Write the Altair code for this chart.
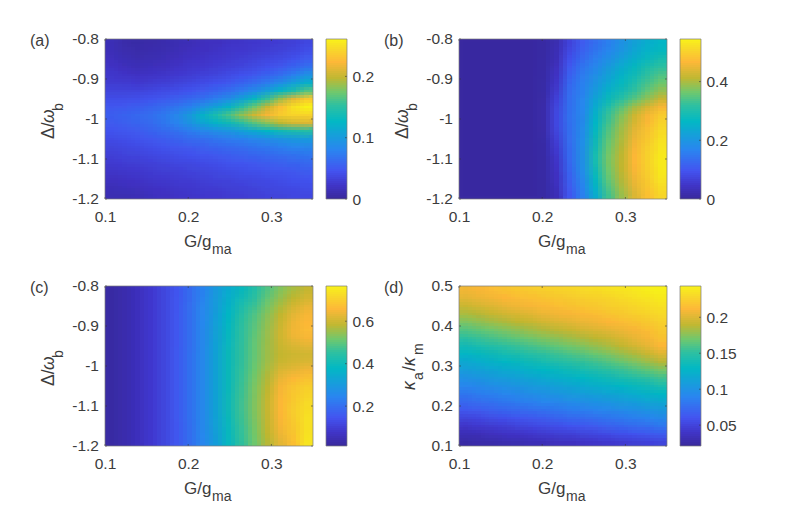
import altair as alt
import numpy as np
import pandas as pd

FONT = "Liberation Sans"
INK = "#3c3c3c"
W, H, CBW = 208, 160, 21

STOPS = [0, 0.08, 0.17, 0.3, 0.48, 0.58, 0.66, 0.75, 0.85, 0.93, 1]
COLORS = ["#3a2a9e", "#4035c8", "#4354f0", "#2a85f0", "#02b8c4", "#2fc0a0", "#6fc86e",
          "#c0b832", "#fdb838", "#f8d82a", "#f9f518"]

G_EDGES = np.linspace(0.1, 0.35, 17)

PANEL_A = [  # Δ from -0.8 (top) to -1.2 (bottom), thousandths
    [12, 7, 5, 6, 8, 11, 14, 16, 18, 20, 22, 24, 26, 28, 31, 36],
    [14, 9, 7, 8, 10, 13, 16, 18, 20, 23, 25, 27, 29, 32, 35, 41],
    [16, 12, 10, 11, 13, 16, 19, 21, 24, 26, 29, 32, 35, 38, 43, 50],
    [19, 16, 14, 15, 17, 20, 23, 25, 28, 31, 34, 38, 43, 49, 56, 66],
    [23, 21, 19, 20, 22, 25, 28, 31, 34, 38, 43, 48, 55, 64, 75, 90],
    [27, 26, 25, 27, 29, 32, 35, 39, 43, 48, 55, 63, 73, 87, 103, 118],
    [33, 33, 33, 35, 38, 41, 45, 50, 56, 63, 73, 86, 103, 123, 142, 163],
    [40, 41, 42, 45, 49, 53, 59, 66, 75, 87, 105, 128, 155, 185, 212, 232],
    [47, 49, 52, 56, 62, 68, 77, 90, 105, 122, 147, 172, 200, 228, 248, 260],
    [52, 55, 59, 64, 71, 81, 97, 120, 140, 160, 182, 203, 220, 235, 240, 240],
    [50, 53, 57, 62, 69, 78, 92, 108, 122, 133, 148, 165, 180, 195, 205, 208],
    [45, 47, 50, 55, 60, 66, 73, 81, 88, 95, 103, 113, 124, 135, 142, 146],
    [39, 41, 44, 47, 51, 55, 60, 64, 68, 72, 77, 82, 87, 92, 97, 100],
    [34, 36, 38, 41, 44, 47, 50, 53, 57, 60, 63, 67, 71, 75, 79, 82],
    [30, 32, 34, 36, 38, 40, 43, 46, 48, 51, 54, 57, 60, 63, 66, 69],
    [26, 28, 29, 31, 33, 35, 37, 39, 41, 44, 46, 49, 51, 54, 56, 59],
    [22, 23, 25, 27, 29, 30, 32, 34, 36, 38, 40, 42, 44, 46, 49, 51],
    [18, 19, 21, 23, 25, 27, 28, 30, 32, 33, 35, 37, 39, 41, 43, 45],
    [14, 15, 17, 19, 21, 23, 25, 27, 28, 30, 31, 33, 35, 37, 39, 40],
    [11, 11, 13, 15, 18, 20, 22, 24, 25, 27, 28, 30, 32, 33, 35, 36],
]

PANEL_B = [
    [4, 4, 4, 4, 4, 5, 7, 22, 68, 105, 133, 158, 188, 218, 242, 257],
    [4, 4, 4, 4, 4, 5, 7, 24, 77, 113, 142, 168, 198, 228, 253, 268],
    [4, 4, 4, 4, 4, 5, 8, 28, 88, 126, 156, 186, 215, 245, 272, 290],
    [4, 4, 4, 4, 4, 5, 8, 34, 102, 140, 171, 205, 238, 268, 296, 315],
    [4, 4, 4, 4, 4, 5, 9, 40, 112, 150, 183, 218, 252, 282, 316, 338],
    [4, 4, 4, 4, 4, 5, 10, 46, 120, 157, 194, 232, 266, 298, 332, 358],
    [4, 4, 4, 4, 4, 5, 10, 54, 127, 162, 208, 250, 285, 318, 352, 382],
    [4, 4, 4, 4, 4, 5, 11, 64, 132, 165, 224, 275, 310, 345, 382, 418],
    [4, 4, 4, 4, 4, 5, 12, 72, 135, 168, 240, 300, 345, 392, 430, 460],
    [4, 4, 4, 4, 4, 5, 12, 76, 136, 172, 252, 322, 372, 420, 458, 490],
    [4, 4, 4, 4, 4, 5, 12, 76, 135, 174, 258, 330, 382, 430, 468, 502],
    [4, 4, 4, 4, 4, 5, 11, 70, 132, 177, 268, 342, 392, 442, 478, 512],
    [4, 4, 4, 4, 4, 5, 10, 62, 130, 180, 276, 350, 398, 450, 486, 520],
    [4, 4, 4, 4, 4, 5, 9, 54, 128, 184, 284, 358, 404, 458, 494, 526],
    [4, 4, 4, 4, 4, 5, 9, 48, 126, 186, 289, 364, 408, 464, 498, 530],
    [4, 4, 4, 4, 4, 5, 8, 44, 122, 185, 288, 366, 410, 464, 498, 532],
    [4, 4, 4, 4, 4, 5, 8, 40, 116, 180, 280, 360, 408, 459, 495, 530],
    [4, 4, 4, 4, 4, 5, 7, 36, 110, 172, 268, 352, 402, 452, 490, 524],
    [4, 4, 4, 4, 4, 5, 7, 32, 104, 164, 254, 340, 394, 442, 482, 515],
    [4, 4, 4, 4, 4, 5, 6, 28, 98, 157, 240, 330, 385, 434, 476, 507],
]

PANEL_C = [
    [22, 35, 55, 82, 112, 145, 190, 236, 292, 342, 388, 433, 483, 528, 560, 585],
    [22, 35, 55, 82, 112, 146, 191, 238, 296, 350, 400, 445, 497, 542, 578, 602],
    [22, 35, 55, 82, 112, 147, 192, 240, 301, 360, 418, 462, 515, 562, 602, 628],
    [22, 35, 55, 82, 112, 148, 194, 243, 306, 372, 435, 480, 532, 580, 622, 645],
    [22, 35, 55, 82, 112, 148, 195, 245, 309, 378, 443, 488, 540, 590, 634, 654],
    [22, 35, 55, 82, 112, 148, 195, 246, 311, 382, 447, 493, 545, 595, 640, 660],
    [22, 35, 55, 82, 112, 149, 196, 247, 314, 386, 449, 497, 548, 596, 632, 648],
    [22, 35, 55, 82, 112, 149, 197, 248, 316, 390, 450, 499, 550, 590, 610, 622],
    [22, 35, 55, 82, 112, 150, 198, 250, 318, 392, 450, 500, 550, 583, 594, 600],
    [22, 35, 55, 82, 112, 150, 198, 250, 318, 392, 452, 503, 553, 590, 603, 610],
    [22, 35, 55, 82, 112, 150, 198, 250, 318, 392, 454, 508, 560, 610, 625, 640],
    [22, 35, 55, 82, 112, 150, 198, 250, 318, 392, 457, 514, 568, 630, 655, 672],
    [22, 35, 55, 82, 112, 150, 198, 250, 318, 392, 460, 520, 575, 645, 675, 695],
    [22, 35, 55, 82, 112, 150, 198, 250, 318, 394, 462, 522, 582, 650, 683, 708],
    [22, 35, 55, 82, 112, 150, 198, 250, 318, 395, 464, 524, 588, 654, 688, 718],
    [22, 35, 55, 82, 112, 150, 198, 250, 318, 395, 464, 524, 588, 655, 692, 726],
    [22, 35, 55, 82, 112, 150, 198, 249, 316, 393, 462, 522, 585, 652, 690, 728],
    [22, 35, 55, 82, 112, 149, 197, 247, 312, 391, 458, 518, 582, 645, 685, 730],
    [22, 35, 55, 82, 112, 149, 196, 245, 308, 388, 454, 514, 578, 635, 678, 733],
    [22, 35, 55, 82, 112, 148, 195, 242, 305, 385, 450, 510, 572, 622, 668, 738],
]

PANEL_D = [  # κ from 0.5 (top) to 0.1 (bottom)
    [206, 209, 213, 216, 219, 221, 223, 225, 227, 229, 231, 233, 235, 237, 240, 242],
    [201, 204, 207, 210, 213, 215, 217, 219, 221, 223, 225, 227, 230, 232, 235, 238],
    [192, 196, 199, 203, 206, 209, 212, 214, 216, 218, 220, 223, 225, 228, 231, 234],
    [183, 186, 190, 194, 197, 200, 204, 207, 209, 212, 214, 217, 220, 223, 226, 229],
    [172, 176, 180, 184, 188, 191, 195, 198, 201, 204, 207, 210, 213, 216, 220, 224],
    [160, 164, 168, 172, 176, 180, 184, 187, 191, 195, 198, 201, 205, 209, 214, 220],
    [149, 153, 157, 161, 165, 169, 173, 176, 180, 184, 188, 192, 197, 203, 208, 216],
    [137, 141, 145, 149, 153, 157, 161, 165, 169, 173, 178, 183, 189, 195, 202, 210],
    [126, 130, 134, 138, 142, 146, 150, 154, 158, 162, 167, 172, 178, 184, 191, 199],
    [116, 120, 123, 127, 131, 135, 139, 143, 147, 151, 155, 160, 166, 172, 179, 186],
    [107, 110, 113, 117, 120, 124, 128, 131, 135, 139, 143, 148, 153, 158, 164, 170],
    [98, 101, 104, 107, 110, 114, 117, 121, 124, 128, 132, 136, 140, 145, 150, 155],
    [89, 92, 95, 98, 101, 104, 107, 110, 114, 117, 121, 124, 128, 132, 136, 141],
    [80, 83, 86, 89, 92, 95, 98, 101, 104, 107, 110, 113, 116, 120, 124, 128],
    [71, 74, 77, 80, 83, 86, 89, 91, 94, 97, 99, 102, 105, 108, 112, 115],
    [62, 64, 67, 70, 72, 75, 77, 80, 83, 85, 88, 91, 94, 97, 100, 103],
    [50, 52, 55, 57, 60, 63, 65, 68, 71, 73, 76, 79, 82, 85, 88, 92],
    [40, 42, 44, 46, 49, 51, 54, 56, 59, 61, 64, 67, 70, 73, 76, 80],
    [31, 33, 35, 37, 39, 41, 43, 45, 47, 49, 52, 54, 57, 59, 62, 65],
    [25, 26, 27, 29, 30, 32, 33, 35, 36, 38, 40, 42, 44, 46, 48, 50],
]

X_TICKS = [0.1, 0.2, 0.3]
Y_TICKS_DELTA = [-0.8, -0.9, -1.0, -1.1, -1.2]
Y_LABELS_DELTA = ["-0.8", "-0.9", "-1", "-1.1", "-1.2"]
Y_TICKS_KAPPA = [0.1, 0.2, 0.3, 0.4, 0.5]
Y_LABELS_KAPPA = ["0.1", "0.2", "0.3", "0.4", "0.5"]

# The grid is drawn several times with small pixel shifts and falling opacity, which
# softens the cell edges like the bilinear shading of the reference.
SOFTEN = [(0, 0), (-4, -3), (4, -3), (-4, 3), (4, 3), (-4, 0), (4, 0), (0, -3), (0, 3)]

ONE = pd.DataFrame({"o": [0]})


def txt(s, x, y, size, angle=0, style="normal"):
    return (
        alt.Chart(ONE)
        .mark_text(text=s, align="left", baseline="alphabetic", font=FONT, fontSize=size,
                   angle=angle, fontStyle=style, color=INK)
        .encode(x=alt.value(x), y=alt.value(y))
    )


def ticks_y(vals, scale, x0, x1):
    return (
        alt.Chart(pd.DataFrame({"v": vals}))
        .mark_rule(color="#333333", strokeWidth=0.6)
        .encode(y=alt.Y("v:Q", scale=scale, title=None), x=alt.value(x0), x2=alt.value(x1))
    )


def ticks_x(vals, scale, y0, y1):
    return (
        alt.Chart(pd.DataFrame({"v": vals}))
        .mark_rule(color="#333333", strokeWidth=0.6)
        .encode(x=alt.X("v:Q", scale=scale, title=None), y=alt.value(y0), y2=alt.value(y1))
    )


def frame(w):
    return (
        alt.Chart(ONE)
        .mark_rect(filled=False, stroke="#7d7d7d", strokeWidth=0.7)
        .encode(x=alt.value(0), x2=alt.value(w), y=alt.value(0), y2=alt.value(H))
    )


def color_scale(lo, hi):
    return alt.Scale(domain=[lo + t * (hi - lo) for t in STOPS], range=COLORS, interpolate="rgb")


def panel(grid, lo, hi, y_top, y_bot, y_ticks, y_labels, letter, y_title):
    y_edges = np.linspace(y_top, y_bot, len(grid) + 1)
    recs = []
    for r, row in enumerate(grid):
        for c, v in enumerate(row):
            recs.append({"x0": G_EDGES[c], "x1": G_EDGES[c + 1],
                         "y0": y_edges[r], "y1": y_edges[r + 1], "v": v / 1000})
    df = pd.DataFrame(recs)
    sx = alt.Scale(domain=[0.1, 0.35], nice=False, zero=False)
    sy = alt.Scale(domain=[min(y_top, y_bot), max(y_top, y_bot)], nice=False, zero=False)
    x_axis = alt.Axis(values=X_TICKS, format=".1f", grid=False, domain=False, ticks=False,
                      labelPadding=10, labelFont=FONT, labelFontSize=15.5, labelColor=INK,
                      labelFlush=False, labelOverlap=False)
    y_axis = alt.Axis(values=y_ticks, labels=False, grid=False, domain=False, ticks=False)
    heats = []
    for i, (dx, dy) in enumerate(SOFTEN):
        heats.append(
            alt.Chart(df)
            .mark_rect(xOffset=dx, yOffset=dy, x2Offset=dx, y2Offset=dy,
                       opacity=1 / (i + 1), clip=True)
            .encode(
                x=alt.X("x0:Q", scale=sx, title=None, axis=x_axis),
                x2="x1:Q",
                y=alt.Y("y0:Q", scale=sy, title=None, axis=y_axis),
                y2="y1:Q",
                color=alt.Color("v:Q", scale=color_scale(lo, hi), legend=None),
            )
        )
    y_lab = (
        alt.Chart(pd.DataFrame({"v": y_ticks, "t": y_labels}))
        .mark_text(align="right", baseline="middle", font=FONT, fontSize=15.5, color=INK, dx=-6)
        .encode(y=alt.Y("v:Q", scale=sy, title=None), x=alt.value(0), text="t:N")
    )
    layers = heats + [
        ticks_y(y_ticks, sy, 0, 2), ticks_y(y_ticks, sy, W - 2, W),
        ticks_x(X_TICKS, sx, 0, 2), ticks_x(X_TICKS, sx, H - 2, H),
        frame(W),
        y_lab,
        txt(letter, -75, 7, 16),
        txt("G/g", 79, 208, 17),
        txt("ma", 107, 215, 14),
    ] + y_title
    return alt.layer(*layers).properties(width=W, height=H)


def colorbar(lo, hi, vals, fmt):
    edges = np.linspace(lo, hi, 81)
    df = pd.DataFrame({"a": edges[:-1], "b": edges[1:]})
    sy = alt.Scale(domain=[lo, hi], nice=False, zero=False)
    bar = (
        alt.Chart(df)
        .mark_rect()
        .encode(
            y=alt.Y("a:Q", scale=sy, title=None,
                    axis=alt.Axis(orient="right", values=vals, labelExpr=fmt, grid=False, domain=False,
                                  ticks=False, labelPadding=5, labelFont=FONT, labelFontSize=15.5,
                                  labelColor=INK, labelFlush=False, labelOverlap=False)),
            y2="b:Q",
            color=alt.Color("a:Q", scale=color_scale(lo, hi), legend=None),
        )
    )
    return alt.layer(bar, ticks_y(vals, sy, CBW - 2, CBW), frame(CBW)).properties(width=CBW, height=H)


DELTA_TITLE = [txt("Δ/", -51, 100, 17.5, 270), txt("ω", -51, 84, 17.5, 270, "italic"),
               txt("b", -42, 72, 14, 270)]
KAPPA_TITLE = [txt("κ", -44, 104, 17.5, 270, "italic"), txt("a", -36, 94, 14, 270),
               txt("/", -44, 85, 17.5, 270), txt("κ", -44, 80, 17.5, 270, "italic"),
               txt("m", -36, 69, 14, 270)]

CB1 = "datum.value==0?'0':format(datum.value,'.1f')"
CB2 = "format(datum.value,'.2~f')"


def cell(grid, lo, hi, y_top, y_bot, y_ticks, y_labels, letter, y_title, cb_vals, cb_fmt):
    return alt.hconcat(
        panel(grid, lo, hi, y_top, y_bot, y_ticks, y_labels, letter, y_title),
        colorbar(lo, hi, cb_vals, cb_fmt),
        spacing=11,
    ).resolve_scale(color="independent")


a = cell(PANEL_A, 0, 0.261, -0.8, -1.2, Y_TICKS_DELTA, Y_LABELS_DELTA, "(a)", DELTA_TITLE, [0, 0.1, 0.2], CB1)
b = cell(PANEL_B, 0, 0.545, -0.8, -1.2, Y_TICKS_DELTA, Y_LABELS_DELTA, "(b)", DELTA_TITLE, [0, 0.2, 0.4], CB1)
c = cell(PANEL_C, 0.012, 0.766, -0.8, -1.2, Y_TICKS_DELTA, Y_LABELS_DELTA, "(c)", DELTA_TITLE, [0.2, 0.4, 0.6], CB1)
d = cell(PANEL_D, 0.021, 0.2435, 0.5, 0.1, Y_TICKS_KAPPA, Y_LABELS_KAPPA, "(d)", KAPPA_TITLE, [0.05, 0.1, 0.15, 0.2], CB2)

chart = (
    alt.vconcat(alt.hconcat(a, b, spacing=10), alt.hconcat(c, d, spacing=10), spacing=22)
    .resolve_scale(color="independent")
    .properties(padding={"left": 22, "top": 24, "right": 0, "bottom": 0}, background="white")
    .configure_view(stroke=None)
)

chart.save("out.html", embed_options={"renderer": "svg", "actions": False})
